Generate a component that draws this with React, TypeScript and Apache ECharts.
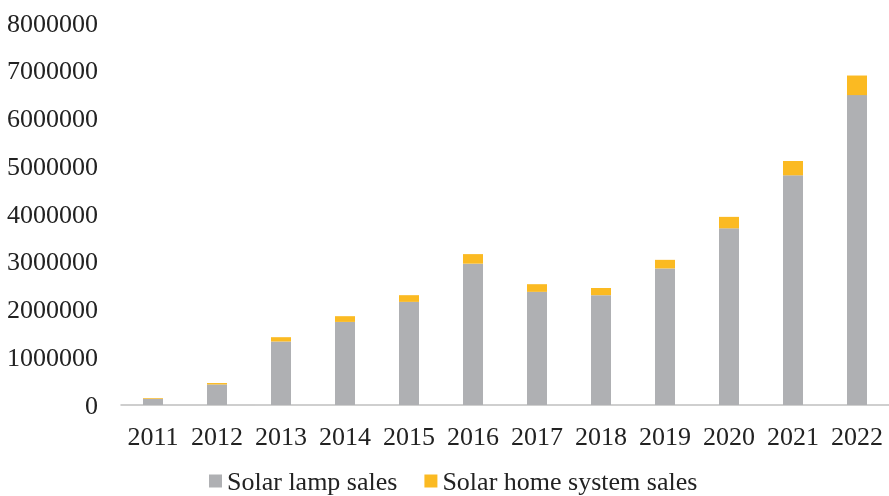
import React, { useEffect, useRef } from "react";
import * as echarts from "echarts";

const years = ["2011", "2012", "2013", "2014", "2015", "2016", "2017", "2018", "2019", "2020", "2021", "2022"];
const lampSales = [130000, 430000, 1330000, 1740000, 2160000, 2960000, 2370000, 2300000, 2860000, 3700000, 4810000, 6490000];
const homeSystemSales = [15000, 30000, 90000, 120000, 140000, 200000, 160000, 150000, 180000, 240000, 300000, 410000];

const FONT = "'Liberation Serif', 'Times New Roman', serif";

export default function App() {
  const ref = useRef<HTMLDivElement>(null);
  useEffect(() => {
    if (!ref.current) return;
    const chart = echarts.init(ref.current, undefined, { renderer: "svg" });
    chart.setOption({
      animation: false,
      textStyle: { fontFamily: FONT },
      grid: { left: 121, right: 0, top: 23, bottom: 91, containLabel: false },
      legend: {
        left: 209,
        top: 468,
        padding: 0,
        itemWidth: 13,
        itemHeight: 13,
        itemGap: 27,
        icon: "rect",
        textStyle: { fontFamily: FONT, fontSize: 26, color: "#222" },
        data: ["Solar lamp sales", "Solar home system sales"],
      },
      xAxis: {
        type: "category",
        data: years,
        axisLine: { lineStyle: { color: "#BFBFBF", width: 1.5 } },
        axisTick: { show: false },
        axisLabel: { fontFamily: FONT, fontSize: 26, color: "#222", margin: 18, interval: 0 },
      },
      yAxis: {
        type: "value",
        min: 0,
        max: 8000000,
        interval: 1000000,
        splitLine: { show: false },
        axisLine: { show: false },
        axisTick: { show: false },
        axisLabel: {
          fontFamily: FONT,
          fontSize: 26,
          color: "#222",
          margin: 23,
          formatter: (v: number) => String(v),
        },
      },
      series: [
        {
          name: "Solar lamp sales",
          type: "bar",
          stack: "total",
          barWidth: 20,
          itemStyle: { color: "#AFB0B3" },
          data: lampSales,
        },
        {
          name: "Solar home system sales",
          type: "bar",
          stack: "total",
          barWidth: 20,
          itemStyle: { color: "#FBBA22" },
          data: homeSystemSales,
        },
      ],
    });
    return () => chart.dispose();
  }, []);
  return <div ref={ref} style={{ position: "fixed", left: 0, top: 0, width: 889, height: 496 }} />;
}
